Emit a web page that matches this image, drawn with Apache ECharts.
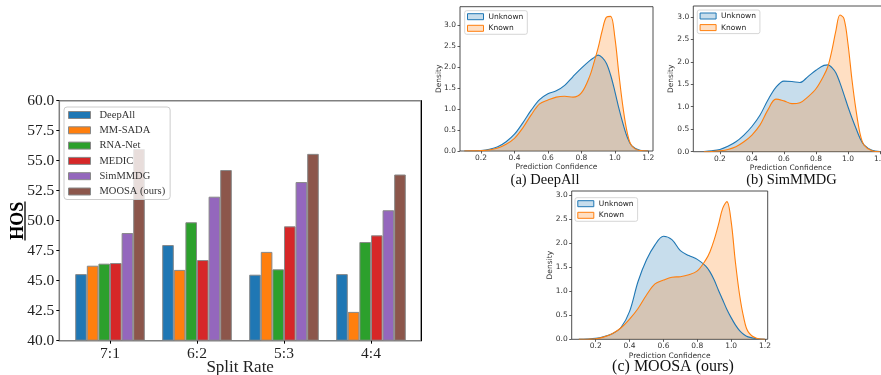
<!DOCTYPE html>
<html>
<head>
<meta charset="utf-8">
<script src="https://cdn.jsdelivr.net/npm/echarts@6.0.0/dist/echarts.min.js"></script>
<style>
html,body{margin:0;padding:0;background:#fff;}
#chart{width:881px;height:375px;}
</style>
</head>
<body>
<div id="chart"></div>
<script>
// ---------- Bar chart data ----------
const splitRates = ['7:1', '6:2', '5:3', '4:4'];
const methods = ['DeepAll', 'MM-SADA', 'RNA-Net', 'MEDIC', 'SimMMDG', 'MOOSA (ours)'];
const deepAll = [45.55, 47.97, 45.50, 45.55];
const mmSada  = [46.25, 45.90, 47.40, 42.40];
const rnaNet  = [46.42, 49.87, 45.95, 48.22];
const medic   = [46.47, 46.72, 49.53, 48.78];
const simMMDG = [48.97, 52.00, 53.22, 50.87];
const moosa   = [55.97, 54.22, 55.57, 53.85];

// ---------- KDE data ----------
const kdeX = [0.10,0.15,0.20,0.25,0.30,0.35,0.40,0.45,0.50,0.55,0.60,0.65,0.70,0.75,0.80,0.85,0.875,0.90,0.925,0.95,0.975,1.00,1.025,1.05,1.075,1.10,1.15,1.20];
const deepAllUnknown = [0,0.002,0.01,0.04,0.10,0.22,0.40,0.67,0.97,1.22,1.36,1.43,1.56,1.77,1.97,2.15,2.22,2.28,2.22,2.08,1.80,1.42,1.00,0.63,0.32,0.13,0.02,0.002];
const deepAllKnown   = [0,0.002,0.008,0.025,0.07,0.16,0.30,0.55,0.86,1.12,1.21,1.28,1.30,1.28,1.38,1.78,2.10,2.45,2.87,3.18,3.20,2.70,1.80,1.00,0.42,0.13,0.01,0];
const simUnknown     = [0.005,0.02,0.05,0.12,0.22,0.37,0.56,0.81,1.15,1.43,1.57,1.56,1.54,1.67,1.81,1.92,1.93,1.87,1.75,1.53,1.27,1.00,0.75,0.52,0.30,0.15,0.03,0.005];
const simKnown       = [0,0.005,0.02,0.05,0.11,0.22,0.37,0.59,0.93,1.17,1.13,1.07,1.09,1.22,1.40,1.70,1.90,2.26,2.70,3.04,2.96,2.40,1.60,0.93,0.41,0.15,0.02,0];
const moosaUnknown   = [0,0.005,0.02,0.06,0.12,0.25,0.58,1.20,1.65,1.96,2.14,2.07,1.84,1.74,1.66,1.52,1.40,1.23,1.02,0.82,0.62,0.45,0.30,0.18,0.10,0.05,0.01,0];
const moosaKnown     = [0,0.002,0.01,0.05,0.12,0.24,0.42,0.64,0.92,1.15,1.23,1.29,1.30,1.34,1.42,1.65,1.82,2.07,2.38,2.72,2.86,2.45,1.61,0.92,0.44,0.16,0.02,0];
const confTicks = [0.2, 0.4, 0.6, 0.8, 1.0, 1.2];
const densTicks = [0, 0.5, 1.0, 1.5, 2.0, 2.5, 3.0];

const barColors = ['#1f77b4', '#ff7f0e', '#2ca02c', '#d62728', '#9467bd', '#8c564b'];
const barSets = [deepAll, mmSada, rnaNet, medic, simMMDG, moosa];
const BLUE = '#1f77b4', ORANGE = '#ff7f0e';
const SERIF = '"Liberation Serif", "DejaVu Serif", serif';
const SANS = '"DejaVu Sans", sans-serif';

const chart = echarts.init(document.getElementById('chart'), null, {renderer: 'canvas'});

const kdeGrids = [
  {left: 460, top: 6.7, width: 193, height: 144.3, xmin: 0.0745, xmax: 1.228, ymax: 3.43, nameGapY: 17, nameGapX: 12,
   leg: {left: 464.7, top: 10.7}, u: deepAllUnknown, k: deepAllKnown},
  {left: 693.3, top: 6, width: 194.7, height: 145.7, xmin: 0.034, xmax: 1.25, ymax: 3.24, nameGapY: 18.6, nameGapX: 12.5,
   leg: {left: 697.3, top: 10}, u: simUnknown, k: simKnown},
  {left: 571.7, top: 191, width: 196, height: 148.3, xmin: 0.058, xmax: 1.216, ymax: 3.08, nameGapY: 18, nameGapX: 13,
   leg: {left: 575, top: 197.7}, u: moosaUnknown, k: moosaKnown}
];

const grid = [{left: 59.3, top: 100.7, width: 361.7, height: 240, show: true, borderColor: '#808080', borderWidth: 1.5,
  backgroundColor: 'transparent', outerBoundsMode: 'none', containLabel: false}];
const xAxis = [{
  gridIndex: 0, type: 'value', min: -0.583, max: 3.575,
  axisLine: {show: false, onZero: false}, splitLine: {show: false},
  axisTick: {show: true, inside: false, customValues: [0, 1, 2, 3], length: 3, lineStyle: {color: '#000', width: 1}},
  axisLabel: {customValues: [0, 1, 2, 3], formatter: v => splitRates[Math.round(v)], fontFamily: SERIF, fontSize: 15.5, color: '#222', margin: 5},
  name: 'Split Rate', nameLocation: 'middle', nameGap: 18.5, nameMoveOverlap: false,
  nameTextStyle: {fontFamily: SERIF, fontSize: 17, color: '#222'}
}];
const yAxis = [{
  gridIndex: 0, type: 'value', min: 40, max: 60, interval: 2.5, startValue: 40,
  axisLine: {show: false, onZero: false}, splitLine: {show: false},
  axisTick: {show: true, inside: false, length: 3, lineStyle: {color: '#000', width: 1}},
  axisLabel: {formatter: v => v.toFixed(1), fontFamily: SERIF, fontSize: 15.5, color: '#222', margin: 5},
  name: 'HOS', nameLocation: 'middle', nameGap: 32, nameRotate: 90, nameMoveOverlap: false,
  nameTextStyle: {fontFamily: SERIF, fontSize: 18, fontWeight: 'bold', color: '#000'}
}, {
  gridIndex: 0, type: 'value', position: 'right', min: 40, max: 60,
  axisLine: {show: true, onZero: false, lineStyle: {color: '#000', width: 1}},
  axisTick: {show: false}, axisLabel: {show: false}, splitLine: {show: false}
}];

const series = [];
barSets.forEach((vals, i) => {
  series.push({
    type: 'bar', name: methods[i], xAxisIndex: 0, yAxisIndex: 0,
    data: vals.map((v, j) => [j, v]),
    barWidth: 11.6, barGap: '0%',
    itemStyle: {color: barColors[i], borderColor: '#888', borderWidth: 1}
  });
});

const legend = [{
  left: 64, top: 107, orient: 'vertical',
  data: methods.map((m, i) => ({name: m, icon: 'rect', itemStyle: {color: barColors[i], borderColor: '#888', borderWidth: 1}})),
  itemWidth: 22, itemHeight: 7, itemGap: 3.3,
  textStyle: {fontFamily: SERIF, fontSize: 10.5, color: '#333', lineHeight: 12, padding: [0, 0, 0, 4]},
  padding: [2, 5, 2, 4], backgroundColor: 'rgba(255,255,255,0.8)',
  borderColor: '#ccc', borderWidth: 1, borderRadius: 3, selectedMode: false
}];

const pairs = (xs, ys) => xs.map((x, i) => [x, ys[i]]);

kdeGrids.forEach((g) => {
  const gi = grid.length;
  grid.push({left: g.left, top: g.top, width: g.width, height: g.height, show: true, borderColor: '#3a3a3a', borderWidth: 0.9,
    backgroundColor: 'transparent', outerBoundsMode: 'none', containLabel: false});
  const xi = xAxis.length;
  xAxis.push({
    gridIndex: gi, type: 'value', min: g.xmin, max: g.xmax,
    axisLine: {show: false, onZero: false}, splitLine: {show: false},
    axisTick: {show: true, inside: false, customValues: confTicks, length: 2.5, lineStyle: {color: '#333', width: 0.8}},
    axisLabel: {customValues: confTicks, formatter: v => v.toFixed(1), fontFamily: SANS, fontSize: 7.5, color: '#333', margin: 3},
    name: 'Prediction Confidence', nameLocation: 'middle', nameGap: g.nameGapX, nameMoveOverlap: false,
    nameTextStyle: {fontFamily: SANS, fontSize: 7.5, color: '#333'}
  });
  const yi = yAxis.length;
  yAxis.push({
    gridIndex: gi, type: 'value', min: 0, max: g.ymax,
    axisLine: {show: false, onZero: false}, splitLine: {show: false},
    axisTick: {show: true, inside: false, customValues: densTicks, length: 2.5, lineStyle: {color: '#333', width: 0.8}},
    axisLabel: {customValues: densTicks, formatter: v => v.toFixed(1), fontFamily: SANS, fontSize: 7.5, color: '#333', margin: 4},
    name: 'Density', nameLocation: 'middle', nameGap: g.nameGapY, nameRotate: 90, nameMoveOverlap: false,
    nameTextStyle: {fontFamily: SANS, fontSize: 7.5, color: '#333'}
  });
  series.push({
    type: 'line', name: 'Unknown', xAxisIndex: xi, yAxisIndex: yi,
    data: pairs(kdeX, g.u), smooth: 0.35, symbol: 'none',
    lineStyle: {color: BLUE, width: 1.1}, itemStyle: {color: BLUE},
    areaStyle: {color: BLUE, opacity: 0.25}
  });
  series.push({
    type: 'line', name: 'Known', xAxisIndex: xi, yAxisIndex: yi,
    data: pairs(kdeX, g.k), smooth: 0.35, symbol: 'none',
    lineStyle: {color: ORANGE, width: 1.1}, itemStyle: {color: ORANGE},
    areaStyle: {color: ORANGE, opacity: 0.25}
  });
  legend.push({
    left: g.leg.left, top: g.leg.top, orient: 'vertical',
    data: [
      {name: 'Unknown', icon: 'rect', itemStyle: {color: 'rgba(31,119,180,0.25)', borderColor: BLUE, borderWidth: 1}},
      {name: 'Known', icon: 'rect', itemStyle: {color: 'rgba(255,127,14,0.25)', borderColor: ORANGE, borderWidth: 1}}
    ],
    itemWidth: 16, itemHeight: 6, itemGap: 2.6,
    textStyle: {fontFamily: SANS, fontSize: 7.5, color: '#222', lineHeight: 9},
    padding: [1.5, 4, 1.5, 2.3], backgroundColor: 'rgba(255,255,255,0.8)',
    borderColor: '#ccc', borderWidth: 0.8, borderRadius: 2, selectedMode: false
  });
});

const option = {
  animation: false,
  backgroundColor: '#fff',
  grid, xAxis, yAxis, series, legend,
  graphic: [
    {type: 'line', shape: {x1: 25, y1: 201.5, x2: 25, y2: 240.5}, style: {stroke: '#000', lineWidth: 1.3}, silent: true},
    {type: 'text', x: 545, y: 180, style: {text: '(a) DeepAll', font: '14.5px ' + SERIF, fill: '#111', align: 'center', verticalAlign: 'middle'}},
    {type: 'text', x: 791.5, y: 180, style: {text: '(b) SimMMDG', font: '14.5px ' + SERIF, fill: '#111', align: 'center', verticalAlign: 'middle'}},
    {type: 'text', x: 673, y: 367, style: {text: '(c) MOOSA (ours)', font: '16px ' + SERIF, fill: '#111', align: 'center', verticalAlign: 'middle'}}
  ]
};
chart.setOption(option);
</script>
</body>
</html>
